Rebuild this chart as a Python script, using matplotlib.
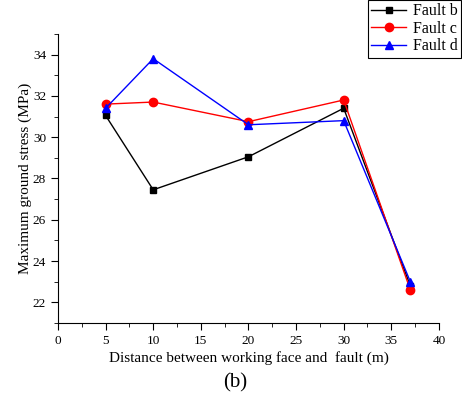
import matplotlib
matplotlib.use("Agg")
import matplotlib.pyplot as plt
from matplotlib.ticker import MultipleLocator

plt.rcParams['font.family'] = ['Liberation Serif', 'DejaVu Serif']

distance = [5, 10, 20, 30, 37]
fault_b = [31.05, 27.45, 29.05, 31.4, 22.8]
fault_c = [31.6, 31.7, 30.75, 31.8, 22.6]
fault_d = [31.4, 33.8, 30.6, 30.8, 23.0]

fig = plt.figure(figsize=(4.62, 3.99), dpi=100)
ax = fig.add_axes([0.1255, 0.1905, 0.8245, 0.7245])

ax.plot(distance, fault_b, color='black', marker='s', markersize=5, linewidth=1, label='Fault b')
ax.plot(distance, fault_c, color='red', marker='o', markersize=6, linewidth=1, label='Fault c')
ax.plot(distance, fault_d, color='blue', marker='^', markersize=6, linewidth=1, label='Fault d')

ax.set_xlim(0, 40)
ax.set_ylim(21, 35)
ax.xaxis.set_major_locator(MultipleLocator(5))
ax.xaxis.set_minor_locator(MultipleLocator(2.5))
ax.yaxis.set_major_locator(MultipleLocator(2))
ax.yaxis.set_minor_locator(MultipleLocator(1))
ax.spines['top'].set_visible(False)
ax.spines['right'].set_visible(False)
ax.tick_params(which='major', direction='out', length=5, labelsize=9.5)
ax.tick_params(which='minor', direction='out', length=3)

ax.set_xlabel('Distance between working face and  fault (m)', fontsize=11, labelpad=3)
ax.set_ylabel('Maximum ground stress (MPa)', fontsize=11, labelpad=1)

leg = ax.legend(loc='upper right', bbox_to_anchor=(0.997, 1.0), bbox_transform=fig.transFigure,
                fontsize=11.5, fancybox=False, framealpha=1, edgecolor='black',
                borderaxespad=0, handlelength=2.2, handletextpad=0.4,
                borderpad=0.2, labelspacing=0.1)
leg.get_frame().set_linewidth(0.8)

fig.text(0.51, 0.03, '(b)', fontsize=15, ha='center')

fig.savefig('out.png', dpi=100)
